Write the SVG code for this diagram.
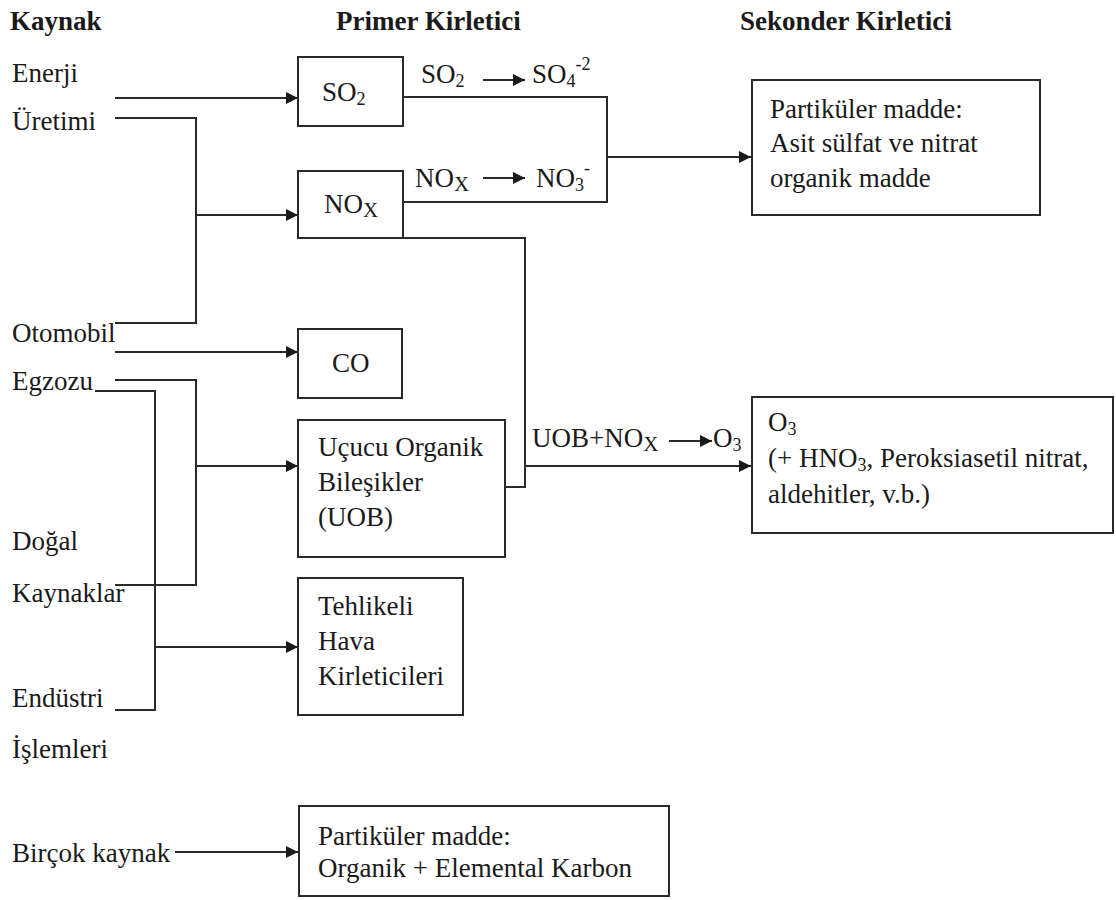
<svg xmlns="http://www.w3.org/2000/svg" width="1116" height="900" viewBox="0 0 1116 900" font-family="'Liberation Serif', 'Times New Roman', Times, 'DejaVu Serif', serif">
<defs>
<style>
text{font-family:'Liberation Serif','Times New Roman',Times,'DejaVu Serif',serif;font-size:27px;fill:#1a1a1a}
.b{font-weight:bold}
.box{fill:#fff;stroke:#2a2a2a;stroke-width:2}
.ln{fill:none;stroke:#2a2a2a;stroke-width:2}
.ar{fill:none;stroke:#2a2a2a;stroke-width:2;marker-end:url(#ah)}
.sub{font-size:18px}
</style>
<marker id="ah" markerUnits="userSpaceOnUse" markerWidth="13" markerHeight="12" refX="12" refY="6" orient="auto">
<path d="M0,0 L12,6 L0,12 z" fill="#1a1a1a"/>
</marker>
</defs>
<rect width="1116" height="900" fill="#fff"/>

<g id="headers">
<text class="b" x="10" y="30">Kaynak</text>
<text class="b" x="336" y="30">Primer Kirletici</text>
<text class="b" x="740" y="30">Sekonder Kirletici</text>
</g>

<g id="sources">
<text x="12" y="82">Enerji</text>
<text x="12" y="130">Üretimi</text>
<text x="12" y="342">Otomobil</text>
<text x="12" y="390">Egzozu</text>
<text x="12" y="550">Doğal</text>
<text x="12" y="602">Kaynaklar</text>
<text x="12" y="707">Endüstri</text>
<text x="12" y="758">İşlemleri</text>
<text x="12" y="862">Birçok kaynak</text>
</g>

<g id="connectors">
<path class="ar" d="M115,98 H298"/>
<path class="ln" d="M115,118 H196 V323 H115"/>
<path class="ar" d="M196,215 H298"/>
<path class="ar" d="M115,352 H298"/>
<path class="ln" d="M115,380 H196 V585 H115"/>
<path class="ar" d="M196,466 H298"/>
<path class="ln" d="M95,391 H155 V710 H115"/>
<path class="ar" d="M155,647 H298"/>
<path class="ln" d="M402,97 H607 V202 H402"/>
<path class="ar" d="M607,157 H751"/>
<path class="ln" d="M402,238 H525 V487 H505"/>
<path class="ar" d="M525,466 H751"/>
<path class="ar" d="M175,852 H298"/>
<path class="ar" d="M483,80 H525"/>
<path class="ar" d="M483,178 H525"/>
<path class="ar" d="M669,441 H712"/>
</g>

<g id="reaction-labels">
<text x="421" y="83">SO<tspan class="sub" dy="4">2</tspan></text>
<text x="532" y="83">SO<tspan class="sub" dy="4">4</tspan><tspan class="sub" dy="-17">-2</tspan></text>
<text x="415" y="187">NO<tspan font-size="21" dy="4">X</tspan></text>
<text x="536" y="187">NO<tspan class="sub" dy="4">3</tspan><tspan class="sub" dy="-17">-</tspan></text>
<text x="532" y="447">UOB+NO<tspan font-size="21" dy="4">X</tspan></text>
<text x="713" y="447">O<tspan class="sub" dy="4">3</tspan></text>
</g>

<g id="node-so2">
<rect class="box" x="298" y="57" width="105" height="69"/>
<text x="322" y="101">SO<tspan class="sub" dy="4">2</tspan></text>
</g>

<g id="node-nox">
<rect class="box" x="298" y="171" width="105" height="67"/>
<text x="324" y="213">NO<tspan font-size="21" dy="4">X</tspan></text>
</g>

<g id="node-co">
<rect class="box" x="298" y="329" width="104" height="69"/>
<text x="332" y="372">CO</text>
</g>

<g id="node-uob">
<rect class="box" x="298" y="420" width="207" height="137"/>
<text x="318" y="456">Uçucu Organik</text>
<text x="318" y="491">Bileşikler</text>
<text x="318" y="526">(UOB)</text>
</g>

<g id="node-thk">
<rect class="box" x="298" y="578" width="165" height="137"/>
<text x="318" y="615">Tehlikeli</text>
<text x="318" y="650">Hava</text>
<text x="318" y="685">Kirleticileri</text>
</g>

<g id="node-pm-secondary">
<rect class="box" x="752" y="80" width="288" height="135"/>
<text x="770" y="118">Partiküler madde:</text>
<text x="770" y="152">Asit sülfat ve nitrat</text>
<text x="770" y="187">organik madde</text>
</g>

<g id="node-o3">
<rect class="box" x="752" y="397" width="361" height="136"/>
<text x="768" y="431">O<tspan class="sub" dy="4">3</tspan></text>
<text x="768" y="467">(+ HNO<tspan class="sub" dy="4">3</tspan><tspan dy="-4">, Peroksiasetil nitrat,</tspan></text>
<text x="768" y="503">aldehitler, v.b.)</text>
</g>

<g id="node-pm-primary">
<rect class="box" x="299" y="806" width="370" height="90"/>
<text x="318" y="845">Partiküler madde:</text>
<text x="318" y="877">Organik + Elemental Karbon</text>
</g>
</svg>
